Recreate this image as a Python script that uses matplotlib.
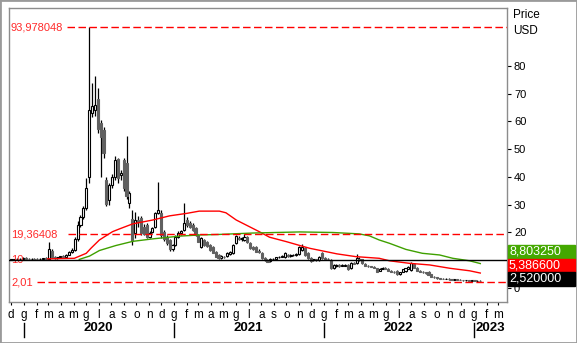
import numpy as np
import pandas as pd
import matplotlib
matplotlib.use('Agg')
import matplotlib.pyplot as plt
import matplotlib.dates as mdates
import matplotlib.transforms as mtransforms
from matplotlib.patches import Rectangle

# weekly candles, first week starting 2019-12-02
start = '2019-12-02'
opens = [10.2, 10.3, 10.4, 10.5, 10.6, 10.8, 10.5, 10.4, 10.6, 10.5,
         10.4, 10.6, 10.7, 10.5, 13.5, 11.0, 10.8, 11.1, 11.4, 11.2,
         12.0, 13.0, 13.6, 17.8, 22.6, 25.7, 28.8, 40.0, 63.0, 64.0,
         68.1, 59.4, 57.0, 38.9, 31.7, 37.0, 40.1, 46.4, 40.7, 46.0,
         45.0, 30.5, 25.0, 19.7, 24.5, 25.1, 22.0, 22.7, 18.5, 20.3,
         22.1, 27.0, 27.0, 20.0, 18.5, 17.3, 13.9, 15.5, 18.5, 19.7,
         20.9, 24.5, 23.5, 22.7, 21.5, 19.1, 14.9, 17.3, 16.5, 15.5,
         14.9, 13.1, 11.9, 10.7, 11.3, 11.5, 12.3, 12.5, 16.1, 18.0,
         17.5, 17.3, 18.5, 16.1, 14.8, 14.9, 13.5, 12.5, 10.7, 10.1,
         9.8, 10.3, 10.5, 11.0, 11.2, 11.0, 12.0, 11.5, 11.8, 12.0,
         12.3, 13.7, 14.3, 12.5, 10.9, 10.0, 10.3, 10.1, 12.5, 10.8,
         10.5, 10.1, 7.1, 8.0, 8.2, 8.0, 8.1, 8.3, 7.1, 9.0,
         8.9, 10.5, 10.3, 8.6, 8.0, 7.8, 7.6, 7.1, 6.2, 6.9,
         7.2, 6.9, 6.2, 5.8, 6.2, 5.0, 5.9, 6.0, 7.0, 6.5,
         8.6, 7.1, 6.2, 5.8, 5.6, 5.9, 5.0, 4.1, 3.8, 3.5,
         3.4, 3.3, 3.4, 3.2, 3.0, 3.1, 2.9, 2.8, 2.7, 2.8,
         2.6, 2.7, 2.55, 2.6]
highs = [10.5, 10.6, 10.7, 10.9, 11.0, 11.0, 10.7, 10.8, 10.8, 10.7,
         10.8, 10.9, 11.0, 16.7, 14.2, 11.4, 11.3, 11.6, 11.8, 12.3,
         13.3, 14.3, 18.5, 24.0, 26.3, 29.5, 39.5, 93.978048, 73.8, 76.4,
         72.0, 60.5, 58.0, 40.0, 38.0, 41.0, 47.6, 47.0, 42.5, 47.0,
         54.8, 35.0, 28.0, 27.5, 26.0, 26.0, 23.0, 23.5, 20.5, 22.0,
         27.5, 38.3, 28.0, 21.0, 19.0, 17.8, 16.0, 19.0, 20.5, 21.0,
         30.5, 25.5, 24.0, 23.5, 22.0, 19.5, 18.5, 17.8, 17.0, 16.0,
         15.3, 13.5, 12.3, 11.8, 11.7, 12.8, 13.2, 15.8, 19.0, 18.6,
         18.5, 19.5, 18.8, 16.5, 15.2, 15.3, 13.9, 12.9, 11.0, 10.5,
         10.8, 10.9, 11.3, 11.6, 12.0, 12.8, 12.3, 12.1, 12.3, 12.6,
         15.2, 15.9, 14.6, 12.8, 11.2, 10.6, 10.6, 11.6, 12.8, 11.1,
         10.8, 10.4, 8.6, 8.6, 8.5, 8.5, 8.6, 8.5, 9.4, 9.3,
         12.3, 11.0, 10.6, 8.9, 8.3, 8.1, 7.9, 7.3, 7.3, 7.6,
         7.5, 7.1, 6.4, 6.1, 6.4, 5.8, 6.9, 7.3, 7.8, 9.3,
         8.9, 7.4, 6.5, 6.1, 5.9, 6.1, 5.2, 4.3, 4.0, 3.7,
         3.6, 3.6, 3.5, 3.4, 3.3, 3.2, 3.1, 2.9, 3.0, 2.9,
         2.8, 2.8, 2.7, 2.7]
lows = [10.1, 10.2, 10.3, 10.4, 10.5, 10.4, 10.2, 10.3, 10.3, 10.2,
        10.3, 10.4, 10.4, 10.3, 10.8, 10.6, 10.6, 10.9, 11.0, 11.0,
        11.8, 12.6, 13.2, 17.0, 22.0, 25.0, 28.0, 38.0, 61.5, 62.0,
        56.0, 40.0, 47.0, 29.5, 30.0, 36.0, 39.0, 38.0, 39.0, 35.0,
        32.0, 29.0, 15.5, 18.0, 22.0, 19.0, 19.0, 18.0, 18.0, 19.8,
        21.5, 26.5, 18.0, 17.0, 15.5, 13.5, 13.2, 15.0, 18.0, 19.2,
        20.5, 22.0, 21.5, 20.5, 18.8, 16.5, 14.5, 15.0, 14.8, 13.5,
        12.5, 11.0, 10.5, 10.4, 10.8, 11.2, 12.0, 12.2, 15.8, 17.2,
        17.0, 17.0, 16.2, 14.0, 13.8, 12.8, 12.7, 10.5, 9.9, 9.2,
        9.5, 10.0, 10.2, 10.7, 11.0, 10.8, 11.2, 11.2, 11.5, 11.7,
        12.0, 13.4, 11.6, 10.5, 9.5, 9.7, 9.8, 9.9, 10.5, 10.2,
        10.0, 6.9, 6.9, 7.7, 7.6, 7.8, 7.9, 6.6, 6.9, 8.5,
        8.7, 9.8, 8.7, 7.8, 7.6, 7.4, 7.1, 5.7, 6.0, 6.7,
        6.7, 6.0, 5.6, 5.4, 4.8, 4.8, 5.7, 5.8, 6.8, 6.3,
        7.1, 6.0, 5.7, 5.4, 5.2, 4.5, 3.9, 3.6, 3.4, 3.2,
        3.1, 3.1, 3.0, 2.9, 2.9, 2.8, 2.7, 2.6, 2.6, 2.5,
        2.5, 2.4, 2.45, 2.4]
closes = [10.3, 10.4, 10.5, 10.6, 10.8, 10.5, 10.4, 10.6, 10.5, 10.4,
          10.6, 10.7, 10.5, 14.0, 11.0, 10.8, 11.1, 11.4, 11.2, 12.0,
          13.0, 13.6, 17.8, 22.6, 25.7, 28.8, 36.0, 64.0, 65.6, 66.0,
          57.2, 54.5, 48.5, 30.3, 37.1, 40.1, 46.1, 39.5, 41.5, 36.0,
          33.0, 34.3, 17.0, 24.5, 23.8, 19.7, 19.5, 18.5, 19.7, 21.5,
          26.9, 28.1, 19.0, 17.5, 16.1, 13.9, 15.5, 18.5, 19.7, 20.5,
          23.3, 22.7, 22.0, 20.9, 19.1, 16.7, 17.9, 15.5, 15.0, 13.7,
          12.7, 11.3, 10.7, 11.5, 11.0, 12.5, 12.8, 15.5, 18.7, 17.5,
          18.0, 18.5, 16.5, 14.3, 14.0, 13.1, 13.0, 10.7, 10.1, 9.4,
          10.5, 10.6, 11.0, 11.3, 11.6, 12.5, 11.5, 11.8, 12.0, 12.2,
          14.9, 14.9, 11.9, 10.7, 9.7, 10.3, 10.0, 11.3, 10.7, 10.5,
          10.3, 7.1, 8.3, 8.3, 7.9, 8.2, 8.3, 6.8, 9.1, 8.8,
          10.7, 10.1, 8.9, 8.0, 7.8, 7.6, 7.3, 5.9, 7.0, 7.3,
          6.9, 6.2, 5.8, 5.6, 5.0, 5.6, 6.7, 7.1, 7.5, 8.9,
          7.3, 6.2, 5.9, 5.6, 5.4, 4.7, 4.1, 3.8, 3.5, 3.3,
          3.3, 3.4, 3.2, 3.0, 3.1, 2.9, 2.8, 2.7, 2.8, 2.6,
          2.7, 2.55, 2.6, 2.52]

# moving averages
red_ma_dates = ['2020-02-28', '2020-05-03', '2020-06-01', '2020-06-13', '2020-07-03',
                '2020-08-04', '2020-08-21', '2020-09-22', '2020-11-10', '2020-12-21',
                '2021-02-01', '2021-03-03', '2021-04-21', '2021-05-07', '2021-06-01',
                '2021-07-03', '2021-07-27', '2021-08-21', '2021-10-01', '2021-11-03',
                '2021-11-27', '2022-02-01', '2022-03-19', '2022-05-15', '2022-06-09',
                '2022-07-27', '2022-09-15', '2022-11-03', '2022-12-21', '2023-01-16']
red_ma = [10.5, 10.7, 12.5, 14.4, 17.3,
          20.3, 21.3, 23.1, 24.5, 26.0,
          26.9, 27.7, 27.7, 27.1, 24.5,
          22.1, 20.3, 18.3, 16.7, 15.3,
          14.3, 12.3, 11.3, 10.7, 9.8,
          8.9, 8.3, 7.1, 6.2, 5.3866]
green_ma_dates = ['2020-05-15', '2020-06-09', '2020-07-03', '2020-08-12', '2020-09-22',
                  '2020-11-10', '2021-01-15', '2021-03-03', '2021-04-21', '2021-07-10',
                  '2021-11-03', '2022-01-22', '2022-03-27', '2022-04-21', '2022-05-15',
                  '2022-06-09', '2022-07-19', '2022-08-28', '2022-10-09', '2022-11-10',
                  '2022-12-21', '2023-01-16']
green_ma = [10.3, 11.5, 13.5, 15.3, 16.8,
            17.7, 18.7, 19.1, 19.3, 19.8,
            20.2, 20.0, 19.5, 18.8, 17.3,
            16.1, 13.9, 12.5, 11.9, 10.7,
            9.8, 8.80325]

month_letters = ['g', 'f', 'm', 'a', 'm', 'g', 'l', 'a', 's', 'o', 'n', 'd']
years = [2020, 2021, 2022, 2023]
level_values = [93.978048, 19.36408, 10, 2.01]
level_labels = ['93,978048', '19,36408', '10', '2,01']
last_labels = ['8,803250', '5,386600', '2,520000']
price_ticks = [0, 10, 20, 30, 40, 50, 60, 70, 80]

plt.rcParams['font.family'] = ['Liberation Sans', 'DejaVu Sans']
plt.rcParams['axes.unicode_minus'] = False

W, H = 577, 343
fig = plt.figure(figsize=(W / 100, H / 100), dpi=100)
ax = fig.add_axes([9 / W, 41 / H, 498 / W, 294 / H])

x = mdates.date2num(pd.date_range(start, periods=len(closes), freq='7D'))
o = np.array(opens)
hi = np.array(highs)
lo = np.array(lows)
c = np.array(closes)
up = c >= o

# candles
ax.vlines(x, lo, hi, color='black', lw=0.9, zorder=2)
ax.bar(x[up], (c - o)[up], bottom=o[up], width=5.2, color='white',
       edgecolor='black', lw=0.8, zorder=3)
ax.bar(x[~up], (o - c)[~up], bottom=c[~up], width=5.2, color='#606060',
       edgecolor='#606060', lw=0.8, zorder=3)

ax.plot(mdates.date2num(pd.to_datetime(red_ma_dates)), red_ma, color='#ff0000', lw=1, zorder=4)
ax.plot(mdates.date2num(pd.to_datetime(green_ma_dates)), green_ma, color='#3fa000', lw=1, zorder=4)

# horizontal levels
ax.axhline(level_values[2], color='black', lw=1, zorder=5)
for v, xs in zip([level_values[0], level_values[1], level_values[3]], [0.117, 0.118, 0.056]):
    ax.axhline(v, xmin=xs, color='#ff0000', lw=1, ls=(0, (5.4, 2.5)), zorder=5)
ytrans = mtransforms.blended_transform_factory(ax.transAxes, ax.transData)
for v, lab in zip(level_values, level_labels):
    ax.text(0.004, v, lab, transform=ytrans, color='#ff2a2a', fontsize=8,
            va='center', ha='left', zorder=4)

ax.set_xlim(mdates.date2num(pd.Timestamp('2019-11-26')), mdates.date2num(pd.Timestamp('2023-03-22')))
ax.set_ylim(-5.05, 100.9)

# x axis: month initials + year row
months = pd.date_range('2019-12-01', '2023-03-01', freq='MS')
ax.set_xticks(mdates.date2num(months))
ax.set_xticklabels([month_letters[m.month - 1] for m in months])
ax.tick_params(axis='x', length=2, pad=3, labelsize=8.5, color='black')
xtrans = mtransforms.blended_transform_factory(ax.transData, ax.transAxes)
for yr in years:
    j = mdates.date2num(pd.Timestamp(f'{yr}-01-01'))
    ax.plot([j, j], [-0.071, -0.118], transform=xtrans, clip_on=False, color='black', lw=1)
    if yr < 2023:
        ax.text(mdates.date2num(pd.Timestamp(f'{yr}-07-01')), -0.088, str(yr), transform=xtrans,
                ha='center', va='center', fontsize=9.5, fontweight='bold')
    else:
        ax.text(j + 3, -0.088, str(yr), transform=xtrans,
                ha='left', va='center', fontsize=9.5, fontweight='bold')

# right price axis; the 10 label sits under the value boxes
ax.yaxis.tick_right()
ax.set_yticks(price_ticks)
ax.set_yticklabels(['' if t == 10 else str(t) for t in price_ticks])
ax.tick_params(axis='y', length=3, pad=2, labelsize=8, color='black')
for s in ax.spines.values():
    s.set_color('#8c8c8c')
    s.set_linewidth(1)

fig.text(513 / W, 1 - 15 / H, 'Price', fontsize=8.5, va='center', ha='left')
fig.text(513 / W, 1 - 31 / H, 'USD', fontsize=8.5, va='center', ha='left')

# last value boxes
for lab, col, top in zip(last_labels, ['#44a800', '#ff0000', '#000000'], [245, 258.5, 272]):
    fig.add_artist(Rectangle((508 / W, 1 - (top + 13.5) / H), 67 / W, 13.5 / H,
                             transform=fig.transFigure, color=col, zorder=5))
    fig.text(509 / W, 1 - (top + 6.8) / H, lab, color='white', fontsize=9,
             va='center', ha='left', zorder=6)

fig.add_artist(Rectangle((0, 0), 1, 1, transform=fig.transFigure, fill=False,
                         edgecolor='#9a9a9a', lw=2))

plt.savefig('out.png', dpi=100)
